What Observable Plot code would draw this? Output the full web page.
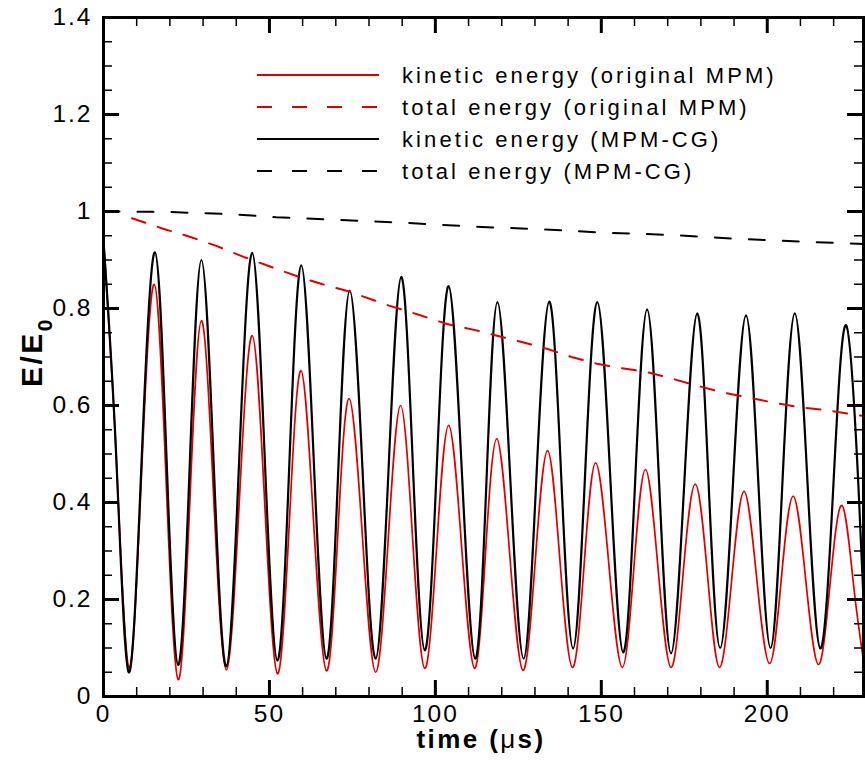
<!DOCTYPE html>
<html>
<head>
<meta charset="utf-8">
<script src="https://cdn.jsdelivr.net/npm/d3@7"></script>
<script src="https://cdn.jsdelivr.net/npm/@observablehq/plot@0.6"></script>
<style>
  body { margin: 0; background: #fff; }
  #chart { position: relative; width: 865px; height: 760px; }
</style>
</head>
<body>
<div id="chart"></div>
<script>
// ---------- data ----------
const xMajor = [0, 50, 100, 150, 200];
const xMinor = [10, 20, 30, 40, 60, 70, 80, 90, 110, 120, 130, 140, 160, 170, 180, 190, 210, 220];
const yMajor = [0, 0.2, 0.4, 0.6, 0.8, 1, 1.2, 1.4];
const yMinor = [0.05, 0.1, 0.15, 0.25, 0.3, 0.35, 0.45, 0.5, 0.55, 0.65, 0.7, 0.75, 0.85, 0.9, 0.95, 1.05, 1.1, 1.15, 1.25, 1.3, 1.35];

// kinetic energy (MPM-CG), black solid
const tCG = [0, 3.8, 7.6, 11.5, 15.5, 19.0, 22.5, 26.0, 29.5, 33.2, 37.0, 40.9, 44.8, 48.6, 52.4, 56.0, 59.6, 63.4, 67.2, 70.7, 74.2, 78.1, 82.0, 85.9, 89.7, 93.2, 96.8, 100.4, 104.0, 108.0, 112.0, 115.4, 118.7, 122.6, 126.6, 130.4, 134.3, 137.9, 141.5, 145.1, 148.8, 152.7, 156.6, 160.2, 163.8, 167.4, 171.0, 175.0, 178.9, 182.3, 185.8, 189.7, 193.6, 197.3, 201.0, 204.6, 208.3, 212.1, 216.0, 219.9, 223.8, 227.5, 229];
const keCG = [0.94, 0.50, 0.05, 0.49, 0.916, 0.49, 0.065, 0.48, 0.90, 0.48, 0.062, 0.49, 0.915, 0.49, 0.074, 0.48, 0.889, 0.48, 0.078, 0.46, 0.837, 0.46, 0.078, 0.47, 0.865, 0.48, 0.095, 0.47, 0.846, 0.46, 0.078, 0.445, 0.813, 0.445, 0.078, 0.446, 0.814, 0.456, 0.099, 0.456, 0.813, 0.452, 0.091, 0.444, 0.798, 0.443, 0.089, 0.44, 0.79, 0.445, 0.10, 0.443, 0.786, 0.443, 0.10, 0.445, 0.79, 0.445, 0.099, 0.432, 0.765, 0.43, 0.2];

// kinetic energy (original MPM), red solid
const tMPM = [0, 3.8, 7.6, 11.4, 15.3, 18.9, 22.5, 26.0, 29.5, 33.2, 37.0, 40.9, 44.8, 48.6, 52.4, 56.0, 59.5, 63.3, 67.2, 70.6, 74.0, 78.0, 82.0, 85.8, 89.5, 93.1, 96.8, 100.4, 104.0, 107.9, 111.8, 115.1, 118.5, 122.4, 126.4, 130.1, 133.8, 137.5, 141.3, 144.8, 148.3, 152.3, 156.3, 159.8, 163.3, 167.1, 171.0, 174.6, 178.3, 182.0, 185.6, 189.3, 193.0, 196.8, 200.7, 204.2, 207.8, 211.6, 215.4, 218.9, 222.5, 226.0, 229];
const keMPM = [0.94, 0.50, 0.06, 0.45, 0.85, 0.44, 0.035, 0.40, 0.775, 0.41, 0.055, 0.40, 0.744, 0.395, 0.047, 0.36, 0.672, 0.36, 0.053, 0.334, 0.614, 0.332, 0.05, 0.325, 0.60, 0.33, 0.058, 0.31, 0.559, 0.31, 0.058, 0.295, 0.531, 0.293, 0.054, 0.28, 0.507, 0.283, 0.06, 0.27, 0.482, 0.27, 0.06, 0.264, 0.468, 0.264, 0.06, 0.25, 0.438, 0.25, 0.06, 0.242, 0.423, 0.245, 0.068, 0.24, 0.413, 0.24, 0.066, 0.23, 0.394, 0.23, 0.074];

// total energy (MPM-CG), black dashed
const tTotCG = [0, 20, 40, 52, 70, 90, 114, 130, 152, 170, 193, 210, 229];
const totCG = [1.0, 0.999, 0.994, 0.988, 0.983, 0.977, 0.968, 0.964, 0.956, 0.952, 0.943, 0.938, 0.933];

// total energy (original MPM), red dashed
const tTotMPM = [8.6, 18.2, 26, 34.4, 42, 50, 59, 66, 74, 86, 95, 103.5, 111, 118.6, 126, 133.6, 141, 148.7, 156, 163.8, 171, 178.8, 186, 194, 201, 209, 218, 228.5];
const totMPM = [0.986, 0.964, 0.948, 0.928, 0.907, 0.887, 0.865, 0.85, 0.835, 0.806, 0.787, 0.768, 0.757, 0.744, 0.731, 0.717, 0.70, 0.686, 0.677, 0.669, 0.656, 0.641, 0.628, 0.617, 0.607, 0.597, 0.59, 0.579];

const legendLabels = ["kinetic energy (original MPM)", "total energy (original MPM)", "kinetic energy (MPM-CG)", "total energy (MPM-CG)"];
const xTitle = "time (";
const xTitleMu = "\u03bc";
const xTitleEnd = "s)";
const yTitle = "E/E";
const yTitleSub = "0";

// ---------- layout / style ----------
const RED = "#e00000";
const W = 865, H = 760;
const mL = 103, mR = 2, mT = 17, mB = 64;
const plotW = W - mL - mR, plotH = H - mT - mB;
const majorLen = 16, minorLen = 9;
const FONT = "'Liberation Sans', Arial, Helvetica, sans-serif";

const zipPts = (t, v) => t.map((d, i) => ({t: d, v: v[i]}));

const chart = Plot.plot({
  width: W, height: H,
  marginLeft: mL, marginRight: mR, marginTop: mT, marginBottom: mB,
  style: {fontFamily: FONT, fontSize: "24px", background: "white", overflow: "visible", color: "black"},
  x: {domain: [0, 229]},
  y: {domain: [0, 1.4]},
  marks: [
    Plot.line(zipPts(tMPM, keMPM), {x: "t", y: "v", stroke: RED, strokeWidth: 1.7, curve: "natural"}),
    Plot.line(zipPts(tCG, keCG), {x: "t", y: "v", stroke: "black", strokeWidth: 2.2, curve: "natural"}),
    Plot.line(zipPts(tTotMPM, totMPM), {x: "t", y: "v", stroke: RED, strokeWidth: 2, strokeDasharray: "14,13"}),
    Plot.line(zipPts(tTotCG, totCG), {x: "t", y: "v", stroke: "black", strokeWidth: 2, strokeDasharray: "16,18"}),
    // inward ticks on all four sides
    Plot.tickX(xMajor, {x: d => d, insetTop: plotH - majorLen, stroke: "black", strokeWidth: 3}),
    Plot.tickX(xMajor, {x: d => d, insetBottom: plotH - majorLen, stroke: "black", strokeWidth: 3}),
    Plot.tickX(xMinor, {x: d => d, insetTop: plotH - minorLen, stroke: "black", strokeWidth: 1.5}),
    Plot.tickX(xMinor, {x: d => d, insetBottom: plotH - minorLen, stroke: "black", strokeWidth: 1.5}),
    Plot.tickY(yMajor, {y: d => d, insetRight: plotW - majorLen, stroke: "black", strokeWidth: 3}),
    Plot.tickY(yMajor, {y: d => d, insetLeft: plotW - majorLen, stroke: "black", strokeWidth: 3}),
    Plot.tickY(yMinor, {y: d => d, insetRight: plotW - minorLen, stroke: "black", strokeWidth: 1.5}),
    Plot.tickY(yMinor, {y: d => d, insetLeft: plotW - minorLen, stroke: "black", strokeWidth: 1.5}),
    Plot.frame({stroke: "black", strokeWidth: 3}),
    Plot.axisX(xMajor, {tickSize: 0, tickPadding: 8, tickFormat: d => String(d), label: null, fontSize: 24.5, fill: "black"}),
    Plot.axisY(yMajor, {tickSize: 0, tickPadding: 11, tickFormat: d => String(d), label: null, fontSize: 24.5, fill: "black"})
  ]
});

document.getElementById("chart").appendChild(chart);
const svg = d3.select(chart);
svg.selectAll("[aria-label='x-axis tick label'] text, [aria-label='y-axis tick label'] text").style("letter-spacing", "2px");

// legend inside the frame
const legendStyles = [
  {stroke: RED, dash: null},
  {stroke: RED, dash: "15,20"},
  {stroke: "black", dash: null},
  {stroke: "black", dash: "15,20"}
];
const lg = svg.append("g").attr("font-family", FONT).attr("text-anchor", "start");
legendLabels.forEach((lab, i) => {
  const y = 75 + i * 32;
  lg.append("line")
    .attr("x1", 257).attr("x2", 379).attr("y1", y).attr("y2", y)
    .attr("stroke", legendStyles[i].stroke).attr("stroke-width", 2)
    .attr("stroke-dasharray", legendStyles[i].dash);
  lg.append("text")
    .attr("x", 402).attr("y", y + 8)
    .attr("text-anchor", "start")
    .attr("font-size", 22).attr("letter-spacing", "3.1px").attr("fill", "black")
    .text(lab);
});

// x title
const xt = svg.append("text")
  .attr("x", 481).attr("y", 748)
  .attr("text-anchor", "middle")
  .attr("font-family", FONT).attr("font-size", 26).attr("font-weight", "bold")
  .attr("letter-spacing", "2.4px").attr("fill", "black");
xt.append("tspan").text(xTitle);
xt.append("tspan").attr("font-weight", "normal").text(xTitleMu);
xt.append("tspan").text(xTitleEnd);

// y title
const yt = svg.append("text")
  .attr("transform", "translate(42,352) rotate(-90)")
  .attr("text-anchor", "middle")
  .attr("font-family", FONT).attr("font-size", 30).attr("font-weight", "bold")
  .attr("letter-spacing", "2.5px").attr("fill", "black");
yt.append("tspan").text(yTitle);
yt.append("tspan").attr("font-size", 21).attr("dy", 10).text(yTitleSub);
</script>
</body>
</html>
